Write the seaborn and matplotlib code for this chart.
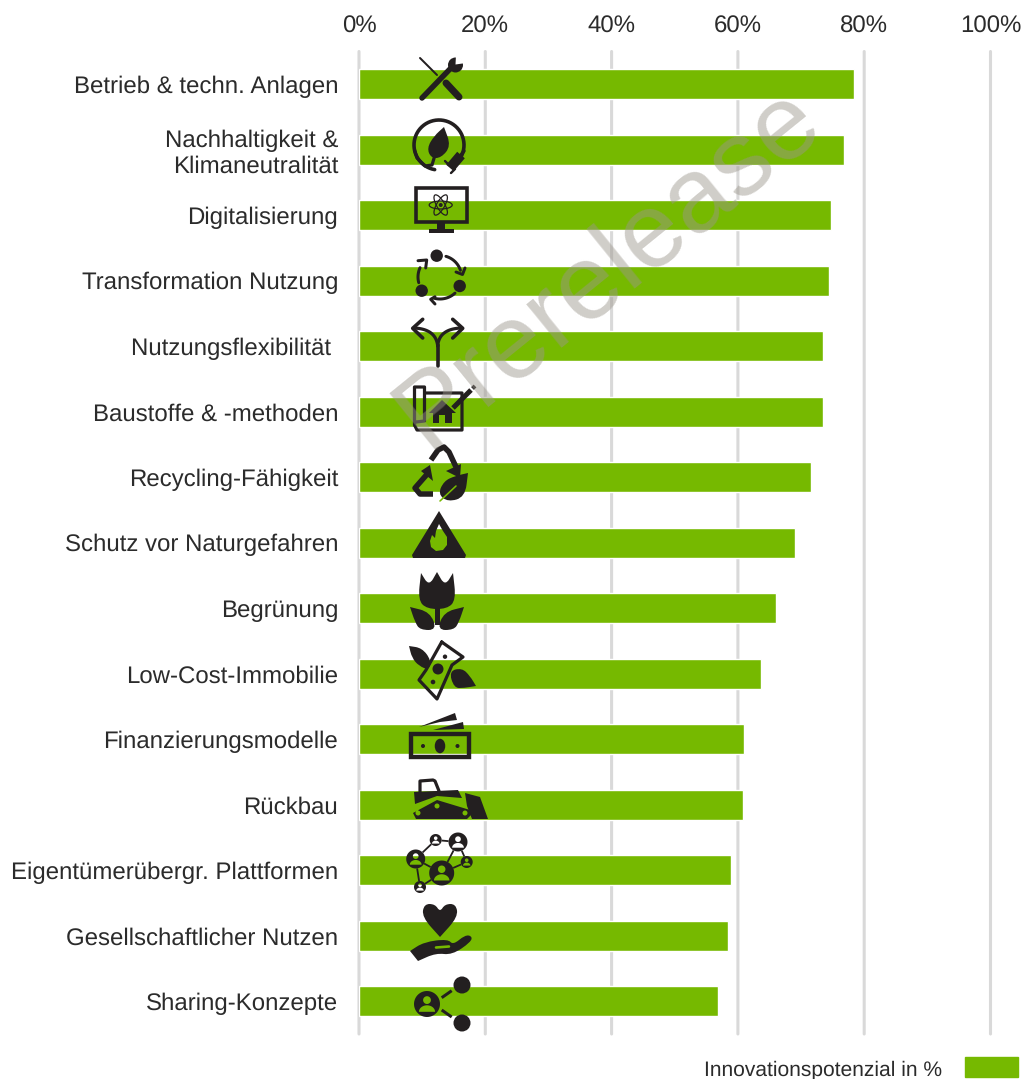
import numpy as np
import pandas as pd
import matplotlib
matplotlib.use('Agg')
import matplotlib.pyplot as plt
import seaborn as sns
from matplotlib.patches import Circle, Ellipse, Polygon, PathPatch, Patch, Rectangle
from matplotlib.path import Path

categories = ['Betrieb & techn. Anlagen', 'Nachhaltigkeit &\nKlimaneutralität', 'Digitalisierung',
              'Transformation Nutzung', 'Nutzungsflexibilität ', 'Baustoffe & -methoden',
              'Recycling-Fähigkeit', 'Schutz vor Naturgefahren', 'Begrünung', 'Low-Cost-Immobilie',
              'Finanzierungsmodelle', 'Rückbau', 'Eigentümerübergr. Plattformen',
              'Gesellschaftlicher Nutzen', 'Sharing-Konzepte']
values = [78.4, 76.8, 74.8, 74.4, 73.5, 73.5, 71.5, 69.0, 66.0, 63.6, 61.0, 60.8, 58.9, 58.4, 56.8]
ticks = [0, 20, 40, 60, 80, 100]
tick_labels = ['0%', '20%', '40%', '60%', '80%', '100%']
legend_label = 'Innovationspotenzial in %'

GREEN = '#76b900'
INK = '#231f20'
TXT = '#2b2b2b'

sns.set_theme(style='white')
plt.rcParams['font.family'] = ['Liberation Sans', 'DejaVu Sans']
plt.rcParams['text.hinting'] = 'no_hinting'
plt.rcParams['text.hinting_factor'] = 1

W, H = 1022, 1079
fig = plt.figure(figsize=(W / 100, H / 100), dpi=100)
ax = fig.add_axes([359 / W, 1 - 1034 / H, 631.5 / W, (1034 - 51.5) / H])

df = pd.DataFrame({'cat': categories, 'val': values})
sns.barplot(data=df, x='val', y='cat', color=GREEN, saturation=1, width=0.462, ax=ax, zorder=3)
ax.set_xlim(0, 100)
ax.set_ylim(14.5, -0.5)
ax.set_xlabel('')
ax.set_ylabel('')
ax.xaxis.tick_top()
ax.set_xticks(ticks)
ax.set_xticklabels(tick_labels)
ax.tick_params(axis='x', length=0, pad=10, labelsize=17.2, labelcolor=TXT)
ax.tick_params(axis='y', length=0, pad=15, labelsize=17.2, labelcolor=TXT)
ax.grid(axis='x', color='#d9d9d9', lw=2.2, zorder=0)
ax.grid(axis='y', visible=False)
ax.set_axisbelow(True)
for g in ax.get_xgridlines():
    g.set_snap(False)
    g.set_clip_on(False)
sns.despine(ax=ax, left=True, bottom=True, top=True, right=True)

leg = fig.legend(handles=[Patch(color=GREEN, label=legend_label)], loc='lower right',
                 bbox_to_anchor=(1018 / W, 0), markerfirst=False, frameon=False,
                 borderpad=0, borderaxespad=0, fontsize=15.4, labelcolor=TXT,
                 handlelength=2.48, handleheight=1.08, handletextpad=1.07)
leg.get_texts()[0].set_position((0, -1.5))

# icons, drawn in pixel space on top of the bars
ov = fig.add_axes([0, 0, 1, 1], zorder=5)
ov.set_xlim(0, W)
ov.set_ylim(H, 0)
ov.axis('off')
ov.patch.set_visible(False)


def stroke(pts, w, c=INK, cap='round'):
    p = np.array(pts, float)
    ov.plot(p[:, 0], p[:, 1], lw=w * 0.72, color=c, solid_capstyle=cap, solid_joinstyle='round')


def quad(a, b, c, w, col=INK):
    t = np.linspace(0, 1, 30)[:, None]
    a, b, c = np.array(a, float), np.array(b, float), np.array(c, float)
    stroke((1 - t) ** 2 * a + 2 * t * (1 - t) * b + t ** 2 * c, w, col)


def dot(x, y, r, c=INK):
    ov.add_patch(Circle((x, y), r, fc=c, ec='none'))


def poly(pts, c=INK):
    ov.add_patch(Polygon(pts, closed=True, fc=c, ec='none'))


def arc(cx, cy, r, a0, a1, w, c=INK):
    t = np.radians(np.linspace(a0, a1, 50))
    stroke(np.c_[cx + r * np.cos(t), cy + r * np.sin(t)], w, c)


def blob(pts, c=INK):
    # closed smooth shape through the midpoints, doubled points stay sharp
    p = np.array(pts, float)
    n = len(p)
    mids = (p + np.roll(p, -1, axis=0)) / 2
    verts = [mids[-1]]
    codes = [Path.MOVETO]
    for i in range(n):
        verts += [p[i], mids[i]]
        codes += [Path.CURVE3, Path.CURVE3]
    ov.add_patch(PathPatch(Path(verts, codes), fc=c, ec='none'))


def circle_pts(x, y, r, sign=1):
    t = sign * np.linspace(0, 2 * np.pi, 48)
    return np.c_[x + r * np.cos(t), y + r * np.sin(t)]


def ring(pts):
    p = np.array(pts, float)
    return Path(np.vstack([p, p[:1]]), closed=True)


def hole_shape(outer, holes, c=INK):
    parts = [ring(outer)] + [ring(h) for h in holes]
    ov.add_patch(PathPatch(Path.make_compound_path(*parts), fc=c, ec='none'))


def node(x, y, r):
    # round badge with a person cut out, the background shows through
    t = np.linspace(0, np.pi, 20)
    body = np.c_[x + 0.62 * r * np.cos(t), y + 0.6 * r - 0.5 * r * np.sin(t)]
    hole_shape(circle_pts(x, y, r), [circle_pts(x, y - 0.3 * r, 0.3 * r, -1), body])


# tools
stroke([(420, 58), (437, 75)], 2)
stroke([(446, 83), (459, 97)], 7)
stroke([(422, 98), (450, 69)], 5.5)
dot(455.5, 65, 7.5)
poly([(455.5, 64.5), (456, 55), (466, 63)], 'white')
dot(422, 98, 1.2, 'white')

# plant and plug
arc(439, 145, 25, 100, 395, 3.6)
stroke([(414.5, 150), (417, 158), (425, 166), (432, 165), (435, 155), (437, 150)], 3.2)
blob([(444, 127), (444, 127), (451, 146), (441, 158), (431, 158), (427, 148), (434, 136)])
stroke([(450, 168), (461, 155)], 10, cap='butt')
stroke([(449, 165), (445, 161)], 2.4)
stroke([(455, 169), (451, 173)], 2.4)
stroke([(461, 155), (464, 151)], 3.4)

# monitor with atom
ov.add_patch(Rectangle((415.5, 187.5), 51, 34, fc='none', ec=INK, lw=3.6 * 0.72))
poly([(436.7, 223), (445, 223), (445, 229), (436.7, 229)])
poly([(429, 229), (454, 229), (454, 233), (429, 233)])
for ang in (0, 60, 120):
    ov.add_patch(Ellipse((440.7, 205), 23, 8, angle=ang, fc='none', ec=INK, lw=0.9))
dot(440.7, 205, 2)

# circular arrows
dot(436.7, 255.7, 6.2)
dot(459.7, 286, 6.2)
dot(421.7, 290.7, 6.2)
arc(440, 277, 21.5, -74, -18, 3)
stroke([(465, 268), (462.5, 274.5), (456, 272)], 3)
arc(440, 277, 22, 47, 106, 3)
stroke([(435, 296.7), (430.7, 299.3), (435, 304)], 3)
arc(440, 277, 22, 165, 205, 3)
stroke([(418, 260.7), (426.7, 260), (425.7, 268)], 3)

# fork arrows
stroke([(437.7, 366), (437.7, 345)], 3.6)
quad((437.7, 346), (436, 329), (414, 328), 3.2)
quad((437.7, 346), (439, 329), (461, 328), 3.2)
stroke([(422.7, 319.3), (412.7, 328.3), (422.7, 338)], 3.6)
stroke([(452.7, 319.3), (462.7, 328.3), (452.7, 338)], 3.6)

# blueprint
stroke([(414.5, 425), (414.5, 387), (424.5, 387), (424.5, 421), (416, 422)], 3.2)
stroke([(414.5, 425), (417, 430), (462, 430), (462, 393), (425, 393)], 3.2, cap='butt')
poly([(442, 400), (456, 413), (452, 413), (452, 423), (445, 423), (445, 415), (439, 415), (439, 423),
      (433, 423), (433, 413), (429, 413)])
stroke([(453, 408), (471, 390)], 5, cap='butt')
stroke([(472.5, 388.5), (475, 386)], 4, cap='butt')

# recycling and leaf
stroke([(431, 460), (438, 450), (444, 447), (449, 452), (456, 467)], 5.5, cap='butt')
poly([(446, 471), (461, 464), (460, 478)])
stroke([(429, 472), (415, 488), (420, 494), (433, 494)], 5.5, cap='butt')
poly([(421, 471), (430, 465), (433, 481)])
blob([(468, 473), (468, 473), (465, 497), (448, 502), (438, 494), (444, 481), (455, 476)])
stroke([(440, 501), (456, 486)], 1.6, GREEN)

# warning triangle with flame cut out
flame = [(439, 524), (443, 531), (447, 537), (447, 545), (443, 550), (436, 551), (431, 547), (430, 541),
         (432, 535), (435, 538), (436, 531)]
hole_shape([(439, 511), (466, 555), (465, 558), (413, 558), (412, 555)], [flame[::-1]])

# tulip
blob([(421, 573), (421, 573), (429, 586), (437, 572), (437, 572), (445, 586), (453, 573), (453, 573),
      (456, 600), (447, 609), (427, 609), (418, 600)])
poly([(435, 605), (440, 605), (440, 625), (435, 625)])
blob([(410, 607), (410, 607), (430, 612), (437, 630), (420, 630), (415, 622)])
blob([(464, 607), (464, 607), (444, 612), (437, 630), (454, 630), (459, 622)])

# flying banknote
stroke([(441.7, 642), (463, 657), (452, 665), (437, 699), (419, 680), (426, 670), (441.7, 642)], 3.2)
dot(438, 669, 5.5)
dot(445, 656.7, 2.2)
dot(433, 682, 2.3)
blob([(409, 646), (409, 646), (422, 648), (431, 660), (429, 670), (419, 666), (412, 658)])
blob([(449, 671), (462, 668), (470, 676), (476, 686), (476, 686), (464, 688), (454, 688)])

# banknote stack
ov.add_patch(Rectangle((411.2, 734.2), 57.6, 22.6, fc='none', ec=INK, lw=4.4 * 0.72))
ov.add_patch(Ellipse((440, 746), 10.5, 14.5, fc=INK, ec='none'))
dot(423, 746, 2)
dot(457.5, 746, 2)
poly([(419, 727), (455, 713), (457, 720), (440, 722)])
poly([(433, 730), (463, 722), (464, 729)])

# skid steer
stroke([(420, 793), (420, 781), (433, 780), (435, 781), (439, 791)], 3.2)
poly([(414, 792), (458, 790), (462, 798), (437, 796), (415, 804)])
hole_shape([(413, 813), (437, 800), (470, 810), (471, 815), (467, 819), (416, 819)],
           [circle_pts(418, 813, 2.5, -1), circle_pts(437, 806, 2.5, -1), circle_pts(465, 813, 2.5, -1)])
poly([(465, 793), (480, 797), (488, 819), (472, 819), (467, 806)])

# network
nodes = [(435.7, 840, 6), (458, 842, 9.5), (415.7, 859, 9.5), (441.7, 873, 12.5), (466.7, 862, 6),
         (420, 887, 6)]
links = [(0, 1), (0, 2), (1, 3), (2, 5), (2, 3), (3, 4), (3, 5), (1, 4)]
for i, j in links:
    a, b = np.array(nodes[i][:2]), np.array(nodes[j][:2])
    d = (b - a) / np.hypot(*(b - a))
    stroke([a + d * nodes[i][2], b - d * nodes[j][2]], 1.8, cap='butt')
for x, y, r in nodes:
    node(x, y, r)

# heart and hand
blob([(440, 937), (440, 937), (422, 917), (424, 904), (435, 904), (440, 912), (445, 904), (456, 904),
      (458, 917)])
blob([(410, 951), (410, 951), (424, 942), (448, 939), (453, 945), (465, 935), (472, 936), (471, 942),
      (452, 955), (436, 953), (418, 961), (418, 961)])
stroke([(436, 947.5), (449, 946.5)], 2.6, GREEN)

# sharing
node(427, 1004, 13)
dot(462, 985, 8.5)
dot(462, 1023, 8.5)
stroke([(441.7, 997.7), (451.7, 990.7)], 3, cap='butt')
stroke([(441.7, 1010), (451.7, 1017)], 3, cap='butt')

# watermark
ov.text(609, 268, 'Prerelease', rotation=39, rotation_mode='anchor', ha='center', va='center',
        fontsize=76, color='#9b968c', alpha=0.47, zorder=20)

fig.savefig('out.png', dpi=100)
